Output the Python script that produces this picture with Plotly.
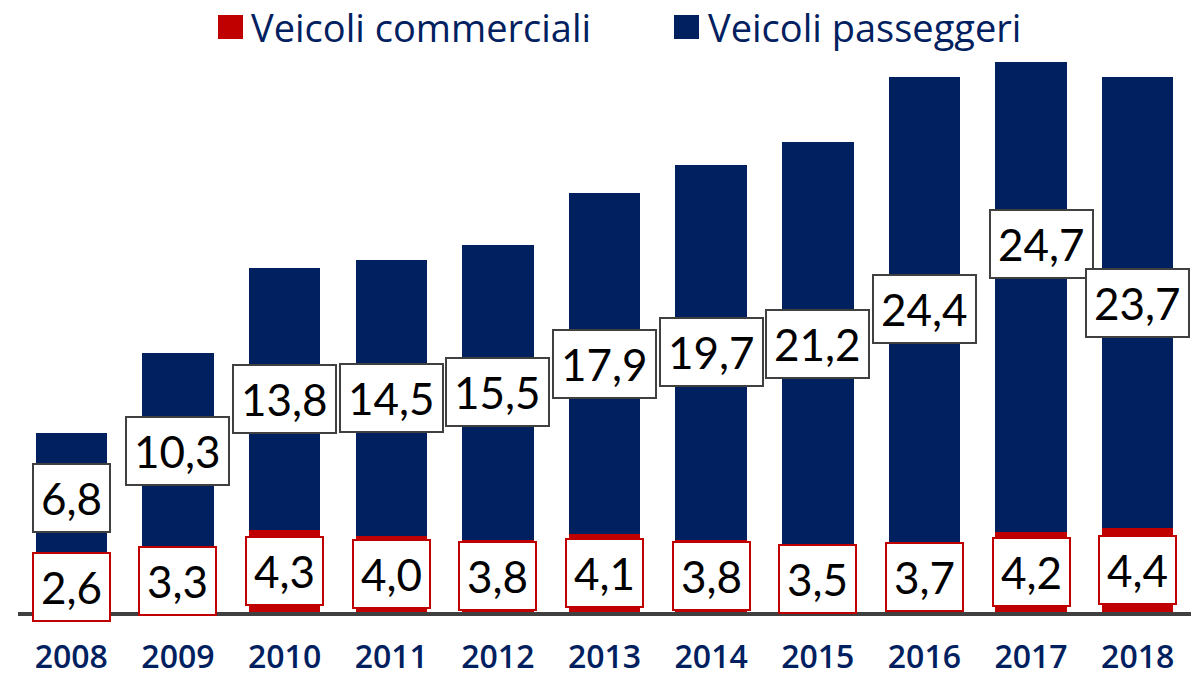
import plotly.graph_objects as go

# ---- data ----
years = ["2008", "2009", "2010", "2011", "2012", "2013", "2014", "2015", "2016", "2017", "2018"]
commerciali = [2.6, 3.3, 4.3, 4.0, 3.8, 4.1, 3.8, 3.5, 3.7, 4.2, 4.4]
passeggeri = [6.8, 10.3, 13.8, 14.5, 15.5, 17.9, 19.7, 21.2, 24.4, 24.7, 23.7]
series_names = ["Veicoli commerciali", "Veicoli passeggeri"]

# ---- style ----
NAVY = "#002060"
RED = "#C00000"
GRAY = "#404040"
W, H = 1198, 677
ML, MR, MT, MB = 18, 7, 58, 65
PW, PH = W - ML - MR, H - MT - MB
YMAX = 29.11
# manual nudge of one label (as in the original) to avoid overlap
label_nudge = {"2017": (10, 53)}


def fmt(v):
    return f"{v:.1f}".replace(".", ",")


def px_x(px):
    return (px - ML) / PW


def px_y(py):
    return (H - MB - py) / PH


fig = go.Figure()
fig.add_bar(x=years, y=commerciali, name=series_names[0], marker_color=RED,
            marker_line_width=0, showlegend=False)
fig.add_bar(x=years, y=passeggeri, name=series_names[1], marker_color=NAVY,
            marker_line_width=0, showlegend=False)

label_font = dict(family="Lato, Carlito, Open Sans, sans-serif", size=44, color="black")
annotations = []
for i, (yr, c, p) in enumerate(zip(years, commerciali, passeggeri)):
    # category axis: annotation x is the category's serial index
    annotations.append(dict(
        x=i, y=c / 2, text=fmt(c), showarrow=False, font=label_font,
        bgcolor="white", bordercolor=RED, borderwidth=2, borderpad=7,
        xanchor="center", yanchor="middle"))
    dx, dy = label_nudge.get(yr, (0, 0))
    annotations.append(dict(
        x=i, y=c + p / 2, text=fmt(p), showarrow=False, font=label_font,
        bgcolor="white", bordercolor=GRAY, borderwidth=2, borderpad=7,
        xanchor="center", yanchor="middle", xshift=dx, yshift=dy))

# custom legend (larger square keys as in the original)
legend_font = dict(family="Open Sans, sans-serif", size=38, color=NAVY)
shapes = []
for name, color, key_x, text_x in [(series_names[0], RED, 218, 250),
                                   (series_names[1], NAVY, 674, 707)]:
    shapes.append(dict(type="rect", xref="paper", yref="paper",
                       x0=px_x(key_x), x1=px_x(key_x + 25),
                       y0=px_y(39), y1=px_y(15),
                       fillcolor=color, line_width=0))
    annotations.append(dict(xref="paper", yref="paper", x=px_x(text_x), y=px_y(27),
                            text=name, showarrow=False, font=legend_font,
                            xanchor="left", yanchor="middle", borderpad=0))

fig.update_layout(
    width=W, height=H,
    barmode="stack", bargap=0.33,
    margin=dict(l=ML, r=MR, t=MT, b=MB, pad=0, autoexpand=False),
    plot_bgcolor="white", paper_bgcolor="white",
    showlegend=False,
    annotations=annotations, shapes=shapes,
    xaxis=dict(type="category", range=[-0.5, len(years) - 0.5],
               showline=True, linewidth=4, linecolor=GRAY, showgrid=False,
               ticks="", ticklabelstandoff=14,
               tickfont=dict(family="Open Sans, sans-serif", size=32, color=NAVY, weight=600)),
    yaxis=dict(visible=False, range=[0, YMAX], showgrid=False, zeroline=False),
)

fig.write_html("out.html", config={"displayModeBar": False},
               post_script="document.body.style.margin='0px';")
